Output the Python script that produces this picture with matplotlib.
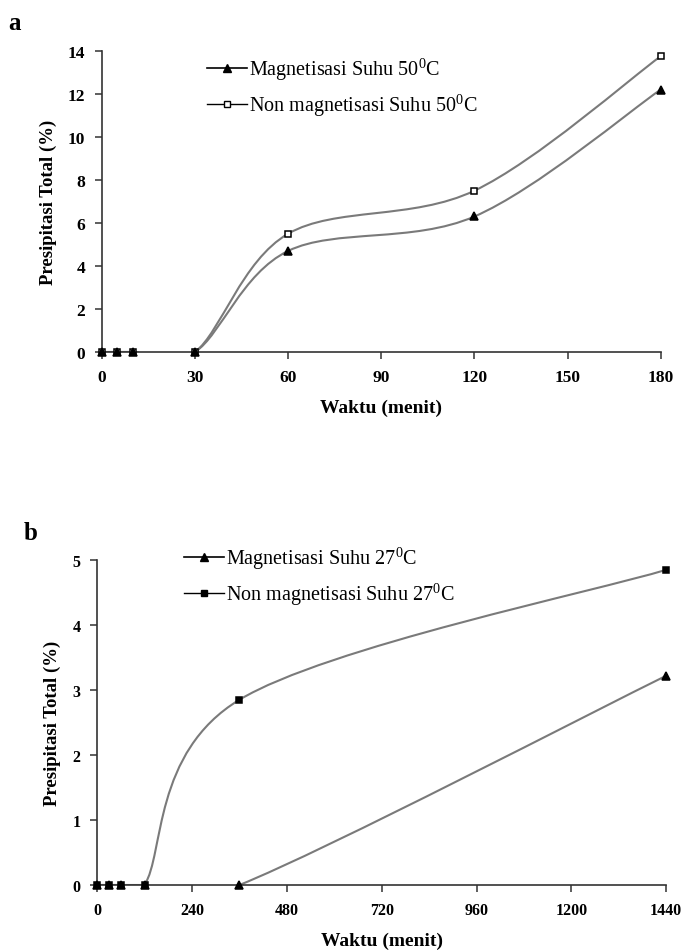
"""Presipitasi total vs waktu, dengan dan tanpa magnetisasi (panel a dan b)."""
import matplotlib

matplotlib.use("Agg")
import matplotlib.pyplot as plt
from matplotlib.lines import Line2D
from matplotlib.patches import PathPatch
from matplotlib.path import Path

plt.rcParams["font.family"] = ["Liberation Serif", "DejaVu Serif"]
plt.rcParams["mathtext.fontset"] = "custom"
plt.rcParams["mathtext.rm"] = "Liberation Serif"

# panel a: 50 C
time_a = [0, 5, 10, 30, 60, 120, 180]
mag_a = [0, 0, 0, 0, 4.7, 6.3, 12.2]
nonmag_a = [0, 0, 0, 0, 5.5, 7.5, 13.75]
xticks_a = [0, 30, 60, 90, 120, 150, 180]
yticks_a = [0, 2, 4, 6, 8, 10, 12, 14]

# panel b: 27 C
time_b = [0, 30, 60, 120, 360, 1440]
mag_b = [0, 0, 0, 0, 0, 3.22]
nonmag_b = [0, 0, 0, 0, 2.85, 4.85]
xticks_b = [0, 240, 480, 720, 960, 1200, 1440]
yticks_b = [0, 1, 2, 3, 4, 5]

LINE = "#7a7a7a"


def smooth_path(x, y):
    # Excel-style smoothed line: cubic Bezier segments, tangents from neighbours / 6
    pts = list(zip(x, y))
    verts = [pts[0]]
    codes = [Path.MOVETO]
    n = len(pts)
    for i in range(n - 1):
        p0 = pts[i - 1] if i > 0 else pts[i]
        p1, p2 = pts[i], pts[i + 1]
        p3 = pts[i + 2] if i + 2 < n else pts[i + 1]
        c1 = (p1[0] + (p2[0] - p0[0]) / 6, p1[1] + (p2[1] - p0[1]) / 6)
        c2 = (p2[0] - (p3[0] - p1[0]) / 6, p2[1] - (p3[1] - p1[1]) / 6)
        verts += [c1, c2, p2]
        codes += [Path.CURVE4] * 3
    return Path(verts, codes)


def draw_series(ax, x, y, marker, size, face):
    ax.add_patch(PathPatch(smooth_path(x, y), fill=False, edgecolor=LINE, linewidth=1.5))
    ax.plot(x, y, linestyle="none", marker=marker, markersize=size,
            markerfacecolor=face, markeredgecolor="black", markeredgewidth=1.1,
            clip_on=False, zorder=3)


def style_axes(ax, xticks, yticks, tick_size):
    ax.spines[["top", "right"]].set_visible(False)
    for side in ("left", "bottom"):
        ax.spines[side].set_linewidth(1.2)
        ax.spines[side].set_color("#333333")
    ax.set_xticks(xticks)
    ax.set_yticks(yticks)
    ax.tick_params(direction="out", length=5, width=1.1, color="#333333",
                   labelsize=tick_size, pad=7)
    for lab in ax.get_xticklabels() + ax.get_yticklabels():
        lab.set_fontweight("bold")
    ax.set_xlabel("Waktu (menit)", fontsize=14, fontweight="bold", labelpad=10)
    ax.set_ylabel("Presipitasi Total (%)", fontsize=13.5, fontweight="bold", labelpad=8)


def legend_handles(temp, square_face):
    return [
        Line2D([], [], color="black", linewidth=1.2, marker="^", markersize=6,
               markerfacecolor="black", markeredgecolor="black",
               label=f"Magnetisasi Suhu {temp}$^{{0}}$C"),
        Line2D([], [], color="black", linewidth=1.0, marker="s", markersize=4.5,
               markerfacecolor=square_face, markeredgecolor="black",
               label=f"Non magnetisasi Suhu {temp}$^{{0}}$C"),
    ]


fig = plt.figure(figsize=(6.84, 9.53), dpi=100)

ax_a = fig.add_axes([0.149, 0.6296, 0.817, 0.316])
draw_series(ax_a, time_a, nonmag_a, "s", 5, "white")
draw_series(ax_a, time_a, mag_a, "^", 6, "black")
ax_a.set_xlim(0, 180)
ax_a.set_ylim(0, 14)
style_axes(ax_a, xticks_a, yticks_a, 12.5)
ax_a.legend(handles=legend_handles(50, "white"), loc="upper left",
            bbox_to_anchor=(0.155, 1.045), frameon=False, fontsize=14.5,
            handlelength=2.0, handletextpad=0.1, labelspacing=0.45)

ax_b = fig.add_axes([0.142, 0.0703, 0.832, 0.341])
draw_series(ax_b, time_b, nonmag_b, "s", 4.5, "black")
draw_series(ax_b, time_b, mag_b, "^", 6, "black")
ax_b.set_xlim(0, 1440)
ax_b.set_ylim(0, 5)
style_axes(ax_b, xticks_b, yticks_b, 11.5)
ax_b.legend(handles=legend_handles(27, "black"), loc="upper left",
            bbox_to_anchor=(0.12, 1.105), frameon=False, fontsize=14.5,
            handlelength=2.0, handletextpad=0.1, labelspacing=0.45)

fig.text(0.012, 0.975, "a", fontsize=18, fontweight="bold", va="center")
fig.text(0.034, 0.44, "b", fontsize=18, fontweight="bold", va="center")

fig.savefig("out.png", dpi=100, facecolor="white")
